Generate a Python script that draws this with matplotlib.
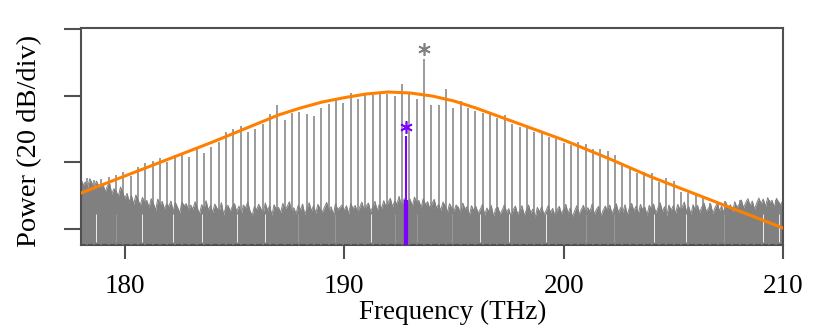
import numpy as np
import matplotlib.pyplot as plt

plt.rcParams['font.family'] = ['Liberation Serif', 'DejaVu Serif']
plt.rcParams['font.size'] = 19.5

# comb lines: first tooth and spacing (THz), heights in dB
tooth_start = 178.253
tooth_step = 0.3345
tooth_db = [
    -64.7, -65.3, -65.0, -64.4, -63.8, -62.9, -64.1, -61.4, -60.2, -59.6,
    -58.7, -59.9, -57.8, -57.2, -58.4, -56.0, -57.2, -55.4, -53.8, -50.8,
    -50.1, -49.1, -51.0, -50.1, -48.6, -45.6, -42.8, -47.3, -45.3, -45.0,
    -45.6, -46.0, -43.8, -42.5, -41.3, -42.1, -39.3, -41.1, -39.8, -39.8,
    -39.3, -39.5, -40.1, -36.5, -39.6, -41.1, -29.0, -42.8, -42.8, -38.1,
    -43.6, -41.6, -43.8, -44.5, -45.3, -44.8, -46.6, -45.8, -48.6, -49.3,
    -49.8, -50.8, -51.3, -52.3, -52.1, -54.1, -54.9, -53.9, -54.6, -56.1,
    -56.1, -56.6, -57.8, -60.5, -61.8, -63.3, -62.8, -63.3, -65.8, -64.8,
    -65.5, -68.8, -69.3, -69.8, -70.8, -72.1, -72.3, -71.5, -73.3, -71.3,
    -74.3, -74.8, -73.3, -71.3, -71.3,
]
marked_tooth = 193.64
marked_db = -29.0

# noise floor trace, every 0.1 THz from 178 to 210
noise_start = 178.0
noise_step = 0.1
noise_db = [
    -65.0, -66.8, -65.9, -67.5, -64.9, -66.2, -68.0, -65.6, -66.9, -67.8,
    -66.4, -68.9, -67.2, -66.1, -69.5, -67.9, -68.6, -70.2, -67.4, -69.0,
    -70.8, -69.3, -71.9, -70.0, -72.6, -69.8, -71.2, -73.0, -70.5, -72.1,
    -71.4, -73.6, -70.9, -72.3, -74.4, -71.0, -72.8, -71.7, -74.0, -72.5,
    -73.2, -71.6, -74.8, -72.0, -73.5, -75.2, -71.9, -73.0, -72.4, -74.6,
    -72.8, -74.1, -71.8, -73.6, -75.5, -72.7, -73.9, -71.5, -74.3, -73.0,
    -75.0, -72.5, -73.8, -74.6, -72.1, -75.8, -73.4, -72.9, -74.7, -73.2,
    -72.4, -74.9, -73.1, -75.6, -72.8, -73.7, -71.9, -74.5, -76.0, -73.3,
    -74.2, -72.6, -73.9, -75.3, -72.2, -74.4, -73.0, -75.9, -72.7, -74.1,
    -73.5, -75.1, -72.3, -74.0, -73.2, -71.8, -74.8, -73.6, -75.4, -72.9,
    -74.3, -72.5, -75.7, -73.8, -72.1, -74.6, -73.0, -75.2, -72.6, -73.9,
    -75.0, -73.4, -72.0, -74.7, -73.3, -75.8, -72.4, -74.1, -73.5, -72.8,
    -74.4, -73.0, -75.5, -72.3, -74.0, -72.9, -75.1, -73.6, -71.9, -74.2,
    -73.1, -72.2, -74.8, -73.4, -71.7, -74.5, -72.6, -73.8, -71.5, -73.3,
    -72.0, -70.8, -73.4, -71.6, -72.5, -70.2, -73.0, -71.3, -70.6, -72.4,
    -71.0, -73.2, -70.4, -72.1, -71.4, -73.6, -70.9, -72.7, -71.8, -74.0,
    -72.3, -71.1, -73.8, -72.6, -74.4, -71.9, -73.1, -75.0, -72.4, -73.7,
    -74.6, -72.8, -73.5, -75.4, -72.2, -74.0, -73.3, -75.9, -73.0, -74.5,
    -73.2, -75.3, -74.1, -72.6, -75.8, -73.7, -74.9, -72.9, -76.2, -74.0,
    -73.4, -75.6, -74.3, -72.7, -75.0, -73.9, -76.4, -74.2, -73.1, -75.5,
    -74.6, -73.0, -75.9, -74.4, -72.8, -75.2, -74.0, -76.6, -73.5, -74.8,
    -73.3, -75.7, -74.5, -72.9, -75.1, -73.8, -76.0, -74.3, -73.2, -75.4,
    -74.1, -72.6, -75.3, -73.7, -76.3, -74.6, -73.0, -75.6, -74.2, -72.9,
    -75.0, -73.6, -74.8, -72.5, -75.7, -74.0, -73.2, -76.1, -74.4, -73.1,
    -74.7, -72.8, -75.4, -73.9, -72.4, -75.1, -73.5, -74.9, -72.7, -75.8,
    -73.6, -72.3, -74.6, -73.1, -75.5, -72.6, -74.2, -73.4, -75.9, -72.9,
    -74.0, -72.5, -75.2, -73.7, -72.1, -74.8, -73.3, -76.0, -72.8, -74.4,
    -73.0, -75.3, -72.6, -74.1, -73.5, -71.9, -74.9, -73.2, -75.6, -72.7,
    -74.3, -72.9, -75.0, -73.4, -72.2, -74.7, -73.8, -72.5, -75.4, -73.6,
    -72.4, -74.5, -73.1, -75.2, -72.0, -73.9, -72.7, -74.8, -71.8, -73.5,
    -72.6, -71.3, -73.7, -72.1, -70.9, -73.0, -71.6, -74.1, -72.2, -70.7,
    -72.5, -71.0, -73.3, -70.6, -72.0, -71.4, -73.6, -70.8, -71.9, -72.8,
    -71.2,
]
# deep dips of the noise trace
dip_freq = [178.7, 179.6, 180.8, 182.2, 183.5, 185.1, 186.4, 187.9, 189.6,
            191.2, 192.3, 193.3, 194.9, 196.2, 197.5, 199.2, 201.0, 202.3,
            204.1, 205.6, 207.3, 209.1, 209.8]

# fitted envelope
env_freq = [178, 180, 182, 184, 186, 187, 188, 189, 190, 191, 192, 193, 194,
            195, 196, 197, 198, 199, 200, 202, 204, 206, 208, 210]
env_db = [-69.2, -64.1, -59.0, -53.9, -48.5, -45.8, -43.7, -41.9, -40.6,
          -39.5, -38.9, -39.2, -40.1, -41.6, -43.7, -46.1, -48.5, -50.9,
          -53.3, -58.7, -64.4, -69.5, -74.6, -79.7]

# filtered single line (purple)
sel_freq = 192.81
sel_db = -52.1
sel_floor_db = -71.3

bottom = -84.8
gray = '#808080'
purple = '#7f00ff'

fig = plt.figure(figsize=(8.3, 3.32), dpi=100)
ax = fig.add_axes([0.0976, 0.262, 0.8458, 0.6537])

nf = noise_start + noise_step * np.arange(len(noise_db))
ax.fill_between(nf, bottom, noise_db, color=gray, lw=0, zorder=1)
ax.plot(nf, noise_db, color=gray, lw=0.7, zorder=1)
ax.vlines(dip_freq, bottom + 1.0, -75.5, color='white', lw=0.6, zorder=2)

tf = tooth_start + tooth_step * np.arange(len(tooth_db))
ax.vlines(tf, bottom, tooth_db, color=gray, lw=1.1, zorder=3)

ax.vlines(sel_freq, bottom, sel_db, color=purple, lw=1.5, zorder=4)
ax.vlines(sel_freq, bottom, sel_floor_db, color=purple, lw=3, zorder=4)

ax.plot(env_freq, env_db, color='#ff8000', lw=2.2, zorder=5)

ax.plot(marked_tooth, marked_db + 3.0, marker=(6, 2, 0), ms=9, mew=1.2,
        color=gray, zorder=6)
ax.plot(sel_freq, sel_db + 2.6, marker=(6, 2, 0), ms=9, mew=1.2,
        color=purple, zorder=6)

ax.set_xlim(178, 210)
ax.set_ylim(bottom, -19.7)
ax.set_xticks([180, 190, 200, 210])
ax.set_yticks([-80, -60, -40, -20])
ax.set_yticklabels([])
ax.tick_params(axis='x', direction='out', length=10, width=1.5,
               color='#505050', pad=11)
ax.tick_params(axis='y', direction='out', length=12, width=1.5,
               color='#505050')
for s in ax.spines.values():
    s.set_color('#505050')
    s.set_linewidth(1.5)

ax.set_xlabel('Frequency (THz)')
ax.set_ylabel('Power (20 dB/div)', fontsize=20.5)
ax.xaxis.set_label_coords(0.530, -0.255)
ax.yaxis.set_label_coords(-0.056, 0.479)

fig.savefig('out.png', dpi=100)
